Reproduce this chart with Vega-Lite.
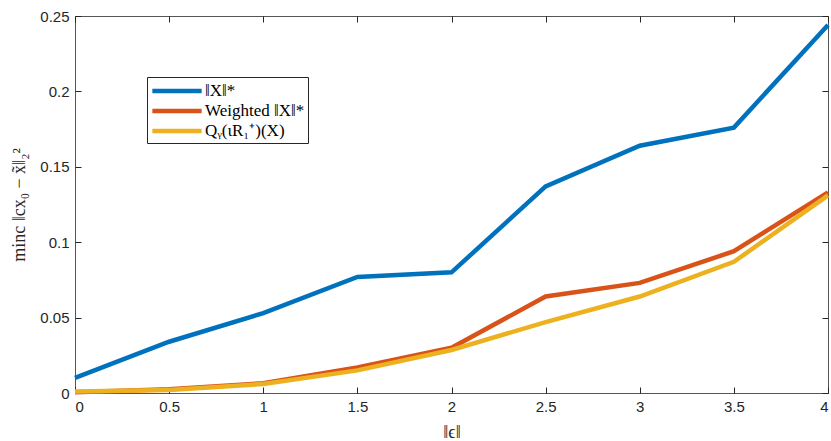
{
  "$schema": "https://vega.github.io/schema/vega-lite/v6.json",
  "width": 753,
  "height": 377,
  "autosize": "none",
  "padding": {"left": 75, "top": 16, "right": 3, "bottom": 48},
  "background": "white",
  "config": {
    "view": {"stroke": "#555555", "strokeWidth": 1},
    "axis": {
      "grid": false,
      "domain": false,
      "offset": -6,
      "tickColor": "#262626",
      "tickSize": 6,
      "labelFont": "Liberation Sans",
      "labelFontSize": 15,
      "labelColor": "#262626",
      "titleFont": "Liberation Serif",
      "titleFontWeight": "normal",
      "titleFontSize": 18,
      "titleColor": "#262626"
    }
  },
  "data": {
    "values": [
      {"eps": 0, "err": 0.010, "series": "‖X‖*"},
      {"eps": 0.5, "err": 0.034, "series": "‖X‖*"},
      {"eps": 1, "err": 0.053, "series": "‖X‖*"},
      {"eps": 1.5, "err": 0.077, "series": "‖X‖*"},
      {"eps": 2, "err": 0.080, "series": "‖X‖*"},
      {"eps": 2.5, "err": 0.137, "series": "‖X‖*"},
      {"eps": 3, "err": 0.164, "series": "‖X‖*"},
      {"eps": 3.5, "err": 0.176, "series": "‖X‖*"},
      {"eps": 4, "err": 0.244, "series": "‖X‖*"},
      {"eps": 0, "err": 0.0005, "series": "Weighted ‖X‖*"},
      {"eps": 0.5, "err": 0.0025, "series": "Weighted ‖X‖*"},
      {"eps": 1, "err": 0.0065, "series": "Weighted ‖X‖*"},
      {"eps": 1.5, "err": 0.017, "series": "Weighted ‖X‖*"},
      {"eps": 2, "err": 0.030, "series": "Weighted ‖X‖*"},
      {"eps": 2.5, "err": 0.064, "series": "Weighted ‖X‖*"},
      {"eps": 3, "err": 0.073, "series": "Weighted ‖X‖*"},
      {"eps": 3.5, "err": 0.094, "series": "Weighted ‖X‖*"},
      {"eps": 4, "err": 0.133, "series": "Weighted ‖X‖*"},
      {"eps": 0, "err": 0.001, "series": "Qᵧ(ιR₁⁺)(X)"},
      {"eps": 0.5, "err": 0.002, "series": "Qᵧ(ιR₁⁺)(X)"},
      {"eps": 1, "err": 0.006, "series": "Qᵧ(ιR₁⁺)(X)"},
      {"eps": 1.5, "err": 0.015, "series": "Qᵧ(ιR₁⁺)(X)"},
      {"eps": 2, "err": 0.0285, "series": "Qᵧ(ιR₁⁺)(X)"},
      {"eps": 2.5, "err": 0.047, "series": "Qᵧ(ιR₁⁺)(X)"},
      {"eps": 3, "err": 0.064, "series": "Qᵧ(ιR₁⁺)(X)"},
      {"eps": 3.5, "err": 0.087, "series": "Qᵧ(ιR₁⁺)(X)"},
      {"eps": 4, "err": 0.131, "series": "Qᵧ(ιR₁⁺)(X)"}
    ]
  },
  "resolve": {"axis": {"x": "independent", "y": "independent"}},
  "layer": [
    {
      "mark": {"type": "line", "strokeWidth": 4.5},
      "encoding": {
        "x": {
          "field": "eps", "type": "quantitative",
          "scale": {"domain": [0, 4], "nice": false},
          "axis": {"values": [0, 0.5, 1, 1.5, 2, 2.5, 3, 3.5, 4], "format": "~g", "title": "‖ϵ‖", "labelPadding": 6, "titlePadding": 9}
        },
        "y": {
          "field": "err", "type": "quantitative",
          "scale": {"domain": [0, 0.25], "nice": false},
          "axis": {"values": [0, 0.05, 0.1, 0.15, 0.2, 0.25], "format": ".2~f", "title": "minc ‖cx₀ − x̃‖₂²", "labelPadding": 6, "titlePadding": 11}
        },
        "color": {
          "field": "series", "type": "nominal",
          "scale": {
            "domain": ["‖X‖*", "Weighted ‖X‖*", "Qᵧ(ιR₁⁺)(X)"],
            "range": ["#0072BD", "#D95319", "#EDB120"]
          },
          "legend": {
            "title": null,
            "orient": "none",
            "legendX": 72,
            "legendY": 61,
            "symbolType": "M-2.9,0H2.9",
            "symbolSize": 289,
            "symbolStrokeWidth": 4.5,
            "symbolOffset": 16,
            "labelFont": "Liberation Serif",
            "labelFontSize": 17,
            "labelColor": "#000000",
            "rowPadding": 0,
            "padding": 3,
            "strokeColor": "#262626",
            "fillColor": "white",
            "labelOffset": 17
          }
        }
      }
    },
    {
      "mark": {"type": "line", "strokeOpacity": 0},
      "encoding": {
        "x": {
          "field": "eps", "type": "quantitative",
          "scale": {"domain": [0, 4], "nice": false},
          "axis": {"orient": "top", "values": [0, 0.5, 1, 1.5, 2, 2.5, 3, 3.5, 4], "labels": false, "title": null}
        },
        "y": {
          "field": "err", "type": "quantitative",
          "scale": {"domain": [0, 0.25], "nice": false},
          "axis": {"orient": "right", "values": [0, 0.05, 0.1, 0.15, 0.2, 0.25], "labels": false, "title": null}
        },
        "detail": {"field": "series"}
      }
    }
  ]
}
